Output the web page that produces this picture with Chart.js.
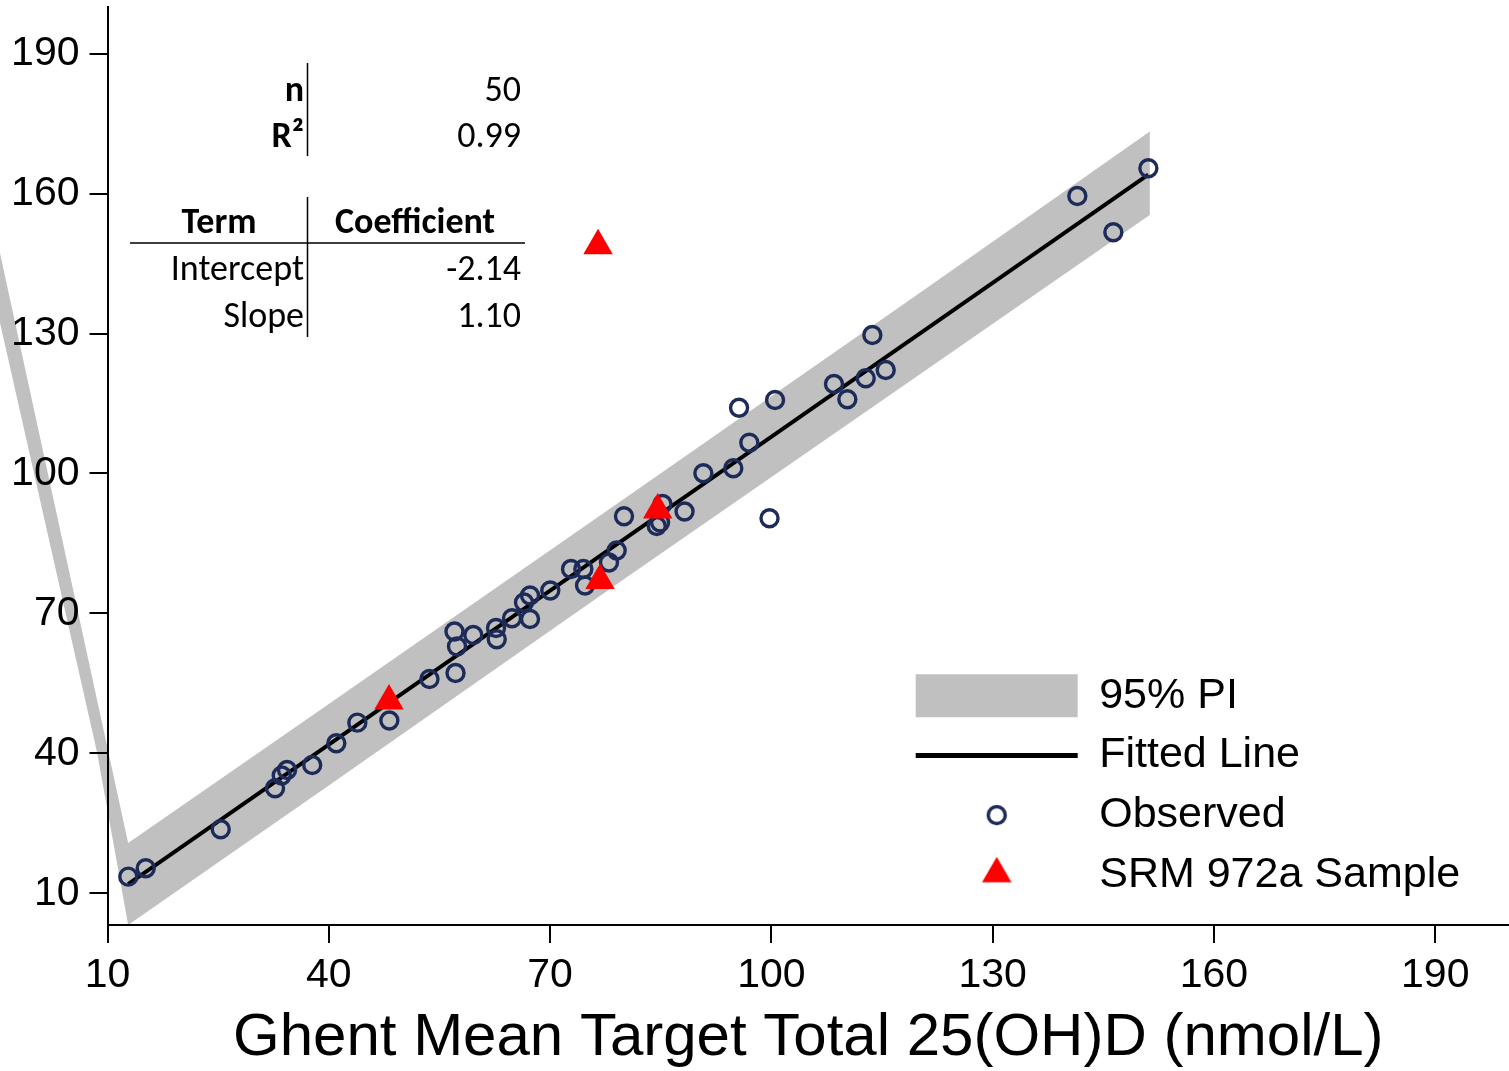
<!DOCTYPE html>
<html>
<head>
<meta charset="utf-8">
<script src="https://cdn.jsdelivr.net/npm/chart.js@4.4.1/dist/chart.umd.min.js"></script>
<style>
  html, body { margin: 0; padding: 0; background: #fff; }
</style>
</head>
<body>
<canvas id="chart" width="1509" height="1071"></canvas>
<script>
// observed samples (circles)
const obsX = [12.82, 15.18, 25.35, 32.71, 33.62, 34.34, 37.75, 41.02, 43.87, 48.21,
  53.65, 57.18, 57.04, 57.38, 59.59, 62.67, 62.77, 64.84, 67.28, 66.47,
  67.28, 70.03, 72.84, 74.51, 74.74, 77.99, 79.03, 80.02, 84.46, 84.91,
  85.24, 88.23, 99.75, 90.78, 94.84, 97.01, 95.62, 100.50, 108.49, 110.30,
  112.79, 115.50, 113.69, 141.48, 146.36, 151.11];
const obsY = [13.57, 15.37, 23.73, 32.52, 35.26, 36.44, 37.51, 42.17, 46.58, 47.05,
  55.95, 57.23, 66.13, 62.92, 65.38, 66.88, 64.46, 68.96, 68.81, 72.35,
  73.85, 74.92, 79.53, 79.53, 75.99, 80.92, 83.49, 90.83, 88.75, 89.50,
  93.46, 91.85, 90.40, 100.04, 101.11, 106.60, 114.10, 115.76, 119.19, 115.91,
  120.41, 122.19, 129.69, 159.49, 151.70, 165.42];

// SRM 972a samples (triangles)
const srmX = [48.16, 76.77, 84.59, 76.50];
const srmY = [51.23, 77.04, 92.18, 148.83];

// fitted line end points
const fitX = [12.8, 151.1];
const fitY = [11.96, 164.08];

// 95% prediction interval
const bandX = [12.8, 40, 80, 120, 151.3];
const bandUpper = [20.8, 50.6, 94.5, 138.6, 173.3];
const bandLower = [3.2, 33.1, 77.3, 121.1, 155.4];
// the band in the original runs off the top-left of the plot
const upperTailX = [-13.8];
const upperTailY = [214.4];
const lowerTailX = [8.6, -16.3];
const lowerTailY = [40.1, 214.4];

const xTicks = [10, 40, 70, 100, 130, 160, 190];
const yTicks = [10, 40, 70, 100, 130, 160, 190];

// regression table
const statNames = ["n", "R²"];
const statValues = ["50", "0.99"];
const tableHeaders = ["Term", "Coefficient"];
const termNames = ["Intercept", "Slope"];
const termValues = ["-2.14", "1.10"];

const NAVY = "#1d2b58";
const GRAY = "#c0c0c0";
const RED = "#ff0000";

Chart.defaults.font.family = "'Liberation Sans', Arial, sans-serif";
Chart.defaults.color = "#000";

const pts = (xs, ys) => xs.map((x, i) => ({ x, y: ys[i] }));

// polygon: upper tail -> upper edge -> lower edge (reversed) -> lower tail
const bandPolygon = pts(upperTailX, upperTailY)
  .concat(pts(bandX, bandUpper))
  .concat(pts(bandX, bandLower).reverse())
  .concat(pts(lowerTailX, lowerTailY));

function markerIcon(w, h, draw) {
  const c = document.createElement("canvas");
  c.width = w;
  c.height = h;
  draw(c.getContext("2d"));
  return c;
}

const circleIcon = markerIcon(26, 26, ctx => {
  ctx.strokeStyle = NAVY;
  ctx.lineWidth = 3.4;
  ctx.beginPath();
  ctx.arc(13, 13, 8.5, 0, Math.PI * 2);
  ctx.stroke();
});

const triangleIcon = markerIcon(36, 36, ctx => {
  ctx.fillStyle = RED;
  ctx.beginPath();
  ctx.moveTo(18, 0);
  ctx.lineTo(18 + 14.72, 25.5);
  ctx.lineTo(18 - 14.72, 25.5);
  ctx.closePath();
  ctx.fill();
});

// fill the PI polygon from the dataset's own line path (may run past the left axis)
const bandFill = {
  id: "bandFill",
  beforeDatasetDraw(chart, args) {
    const ds = chart.data.datasets[args.index];
    if (!ds.polygon || !args.meta.dataset) return;
    const ctx = chart.ctx;
    const area = chart.chartArea;
    ctx.save();
    ctx.beginPath();
    ctx.rect(0, 0, area.right, area.bottom);
    ctx.clip();
    ctx.beginPath();
    args.meta.dataset.path(ctx);
    ctx.closePath();
    ctx.fillStyle = ds.backgroundColor;
    ctx.fill();
    ctx.restore();
  }
};

// put the legend box in the lower right of the plot
const legendPlacement = {
  id: "legendPlacement",
  afterLayout(chart) {
    const lg = chart.legend;
    lg.left = 899;
    lg.top = 657.5;
    lg.right = chart.width;
    lg.bottom = chart.chartArea.bottom;
    lg.width = lg.right - lg.left;
    lg.height = lg.bottom - lg.top;
  }
};

const statsTable = {
  id: "statsTable",
  afterDraw(chart) {
    const ctx = chart.ctx;
    const reg = "36px Carlito, Lato, sans-serif";
    const bold = "bold 36px Carlito, Lato, sans-serif";
    ctx.save();
    ctx.strokeStyle = "#000";
    ctx.lineWidth = 1.5;
    ctx.beginPath();
    ctx.moveTo(307.5, 63); ctx.lineTo(307.5, 156);
    ctx.moveTo(307.5, 197); ctx.lineTo(307.5, 337);
    ctx.moveTo(130, 243); ctx.lineTo(525, 243);
    ctx.stroke();

    ctx.fillStyle = "#000";
    ctx.textBaseline = "alphabetic";
    const statRows = [101, 147];
    const termRows = [280, 327];

    ctx.font = bold;
    ctx.textAlign = "right";
    statNames.forEach((t, i) => ctx.fillText(t, 304, statRows[i]));
    ctx.textAlign = "center";
    ctx.fillText(tableHeaders[0], 219, 233);
    ctx.fillText(tableHeaders[1], 415, 233);

    ctx.font = reg;
    ctx.textAlign = "right";
    statValues.forEach((t, i) => ctx.fillText(t, 521, statRows[i]));
    termNames.forEach((t, i) => ctx.fillText(t, 304, termRows[i]));
    termValues.forEach((t, i) => ctx.fillText(t, 521, termRows[i]));
    ctx.restore();
  }
};

new Chart(document.getElementById("chart"), {
  type: "scatter",
  data: {
    datasets: [
      {
        label: "SRM 972a Sample",
        data: pts(srmX, srmY),
        pointStyle: "triangle",
        pointRadius: 17,
        pointBorderWidth: 0,
        backgroundColor: RED,
        borderColor: RED
      },
      {
        label: "Observed",
        data: pts(obsX, obsY),
        pointStyle: "circle",
        pointRadius: 8.5,
        pointBorderWidth: 3.4,
        backgroundColor: "rgba(0,0,0,0)",
        borderColor: NAVY
      },
      {
        label: "Fitted Line",
        data: pts(fitX, fitY),
        showLine: true,
        borderColor: "#000",
        backgroundColor: "#000",
        borderWidth: 4,
        pointRadius: 0
      },
      {
        label: "95% PI",
        data: bandPolygon,
        polygon: true,
        showLine: true,
        borderWidth: 0,
        pointRadius: 0,
        backgroundColor: GRAY,
        borderColor: GRAY
      }
    ]
  },
  options: {
    responsive: false,
    animation: false,
    events: [],
    layout: { autoPadding: false, padding: { top: 7, left: 0, right: 0, bottom: 0 } },
    scales: {
      x: {
        type: "linear",
        min: 10,
        max: 200,
        border: { color: "#000", width: 2, z: 1 },
        grid: { drawOnChartArea: false, color: "#000", lineWidth: 2, tickLength: 18, z: 1 },
        ticks: { font: { size: 41 }, color: "#000", padding: 8, maxRotation: 0, z: 1 },
        title: {
          display: true,
          text: "Ghent Mean Target Total 25(OH)D (nmol/L)",
          font: { size: 60, lineHeight: 1.07 },
          color: "#000",
          padding: 0
        },
        afterBuildTicks: s => { s.ticks = xTicks.map(v => ({ value: v })); },
        afterFit: s => { s.height = 146; s.paddingLeft = 0; s.paddingRight = 0; }
      },
      y: {
        type: "linear",
        min: 3.2,
        max: 200,
        border: { color: "#000", width: 2, z: 1 },
        grid: { drawOnChartArea: false, color: "#000", lineWidth: 2, tickLength: 18, z: 1 },
        ticks: { font: { size: 41 }, color: "#000", padding: 10, z: 1 },
        afterBuildTicks: s => { s.ticks = yTicks.map(v => ({ value: v })); },
        afterFit: s => { s.width = 107.5; s.paddingTop = 0; s.paddingBottom = 0; }
      }
    },
    plugins: {
      tooltip: { enabled: false },
      legend: {
        position: "chartArea",
        align: "start",
        labels: {
          usePointStyle: true,
          pointStyleWidth: 162,
          boxHeight: 45,
          padding: 16.7,
          color: "#000",
          font: { size: 43 },
          generateLabels(chart) {
            const items = Chart.defaults.plugins.legend.labels.generateLabels(chart);
            items.forEach(item => {
              const label = chart.data.datasets[item.datasetIndex].label;
              if (label === "95% PI") { item.pointStyle = "rect"; item.lineWidth = 0; }
              if (label === "Fitted Line") { item.pointStyle = "line"; item.lineWidth = 5; item.strokeStyle = "#000"; }
              if (label === "Observed") { item.pointStyle = circleIcon; }
              if (label === "SRM 972a Sample") { item.pointStyle = triangleIcon; }
            });
            // band is drawn first (underneath) but listed first in the legend
            return items.reverse();
          }
        }
      }
    }
  },
  plugins: [bandFill, legendPlacement, statsTable]
});
</script>
</body>
</html>
